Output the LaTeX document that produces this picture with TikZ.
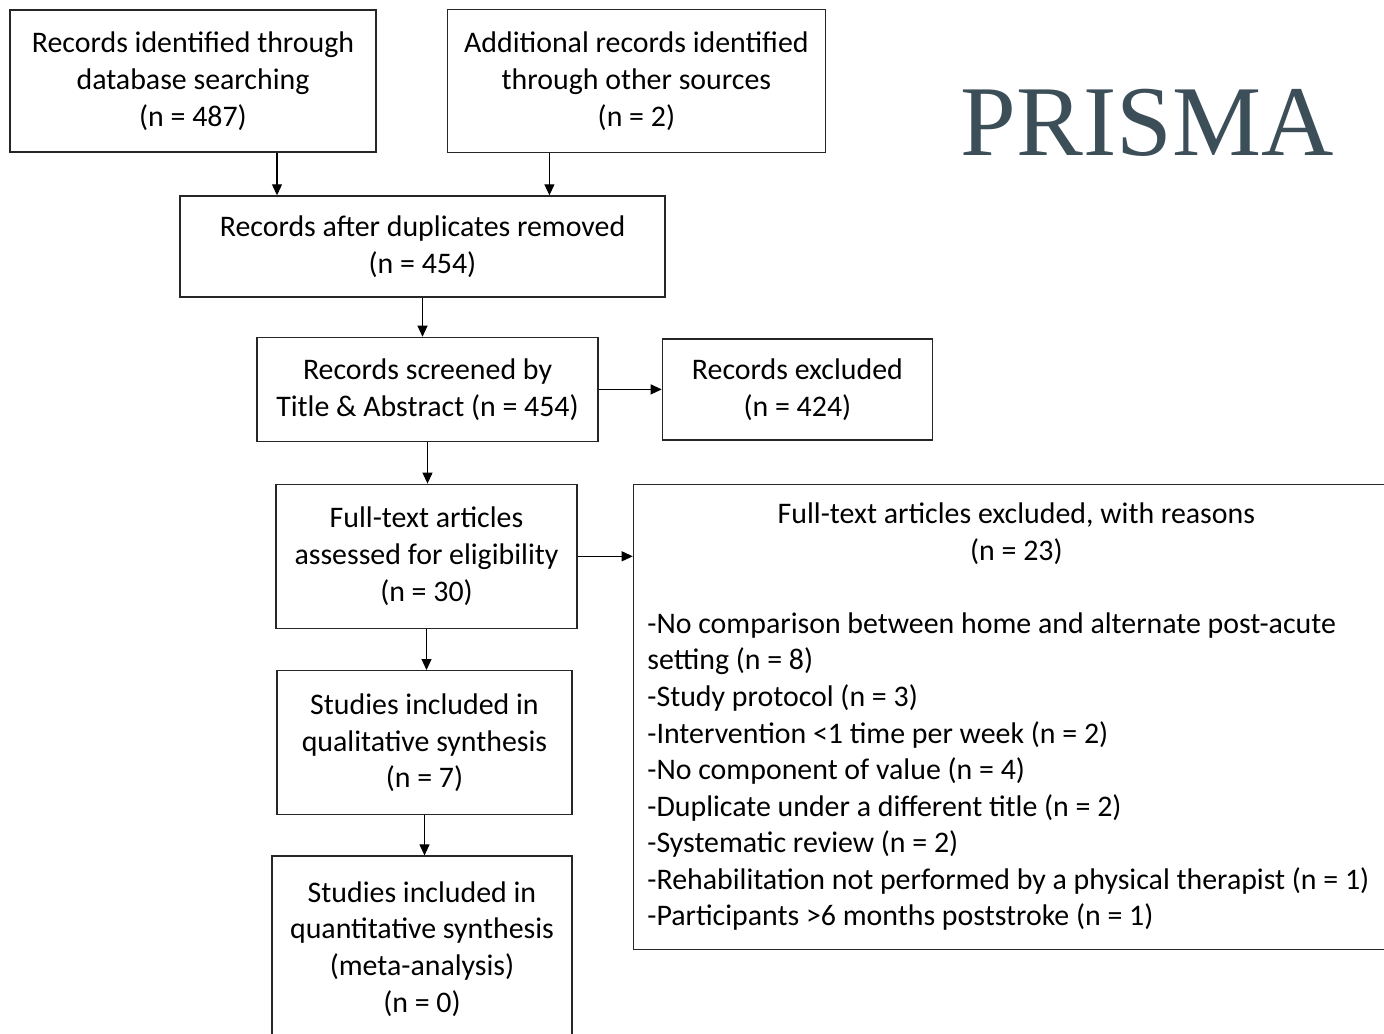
\documentclass[tikz,border=0pt]{standalone}
\usepackage{fontspec}
\setmainfont{Carlito}
\newfontfamily\titlefont{Liberation Serif}
\usepackage{xcolor}
\usepackage{tikz}
\usetikzlibrary{arrows.meta, positioning}
\definecolor{prismagray}{HTML}{3C4E58}
\tikzset{
  recordbox/.style={rectangle, draw=black!85, line width=0.8pt, align=center, inner sep=2pt, font=\fontsize{17}{21}\selectfont},
  notebox/.style={rectangle, draw=black!85, line width=0.8pt, align=flush left, inner xsep=0.28cm, inner ysep=2pt, font=\fontsize{17}{20.8}\selectfont},
  arrowline/.style={-{Triangle[length=0.22cm, width=0.2cm]}, line width=0.6pt},
}
\begin{document}
\begin{tikzpicture}
\useasboundingbox (0,0) rectangle (27.68,-20.68);
\node[recordbox, minimum width=7.32cm, minimum height=2.84cm] (ident) at (3.86,-1.62) {Records identified through\\database searching\\(n = 487)};
\node[recordbox, minimum width=7.56cm, minimum height=2.86cm, right=1.4cm of ident] (other) {Additional records identified\\through other sources\\(n = 2)};
\node[recordbox, minimum width=9.7cm, minimum height=2.02cm] (dedup) at (8.45,-4.93) {Records after duplicates removed\\(n = 454)};
\node[recordbox, minimum width=6.82cm, minimum height=2.08cm, below=0.78cm of dedup, xshift=0.1cm] (screened) {Records screened by\\Title \& Abstract (n = 454)};
\node[recordbox, minimum width=5.4cm, minimum height=2.02cm, right=1.26cm of screened] (excluded) {Records excluded\\(n = 424)};
\node[recordbox, minimum width=6.02cm, minimum height=2.88cm, below=0.83cm of screened, xshift=-0.02cm] (fulltext) {Full-text articles\\assessed for eligibility\\(n = 30)};
\node[notebox, text width=14.76cm, minimum height=9.3cm, right=1.1cm of fulltext.north east, anchor=north west] (ftexcl) {\spaceskip=0pt \xspaceskip=0pt \centering Full-text articles excluded, with reasons\\(n = 23)\par\vspace{20.8pt}\raggedright
-No comparison between home and alternate post-acute\\setting (n = 8)\\-Study protocol (n = 3)\\-Intervention <1 time per week (n = 2)\\-No component of value (n = 4)\\-Duplicate under a different title (n = 2)\\-Systematic review (n = 2)\\-Rehabilitation not performed by a physical therapist (n = 1)\\-Participants >6 months poststroke (n = 1)};
\node[recordbox, minimum width=5.9cm, minimum height=2.88cm, below=0.82cm of fulltext, xshift=-0.04cm] (qual) {Studies included in\\qualitative synthesis\\(n = 7)};
\node[recordbox, minimum width=6.0cm, minimum height=3.72cm, below=0.8cm of qual, xshift=-0.05cm] (quant) {Studies included in\\quantitative synthesis\\(meta-analysis)\\(n = 0)};
\node[text=prismagray, font=\titlefont\fontsize{57}{60}\selectfont] (title) at (22.94,-2.46) {PRISMA};

\draw[arrowline] ([xshift=1.68cm]ident.south) -- ([xshift=1.68cm]ident.south |- dedup.north);
\draw[arrowline] ([xshift=-1.74cm]other.south) -- ([xshift=-1.74cm]other.south |- dedup.north);
\draw[arrowline] (dedup.south) -- (dedup.south |- screened.north);
\draw[arrowline] (screened.east) -- (screened.east -| excluded.west);
\draw[arrowline] (screened.south) -- (screened.south |- fulltext.north);
\draw[arrowline] (fulltext.east) -- (fulltext.east -| ftexcl.west);
\draw[arrowline] (fulltext.south) -- (fulltext.south |- qual.north);
\draw[arrowline] (qual.south) -- (qual.south |- quant.north);
\end{tikzpicture}
\end{document}
